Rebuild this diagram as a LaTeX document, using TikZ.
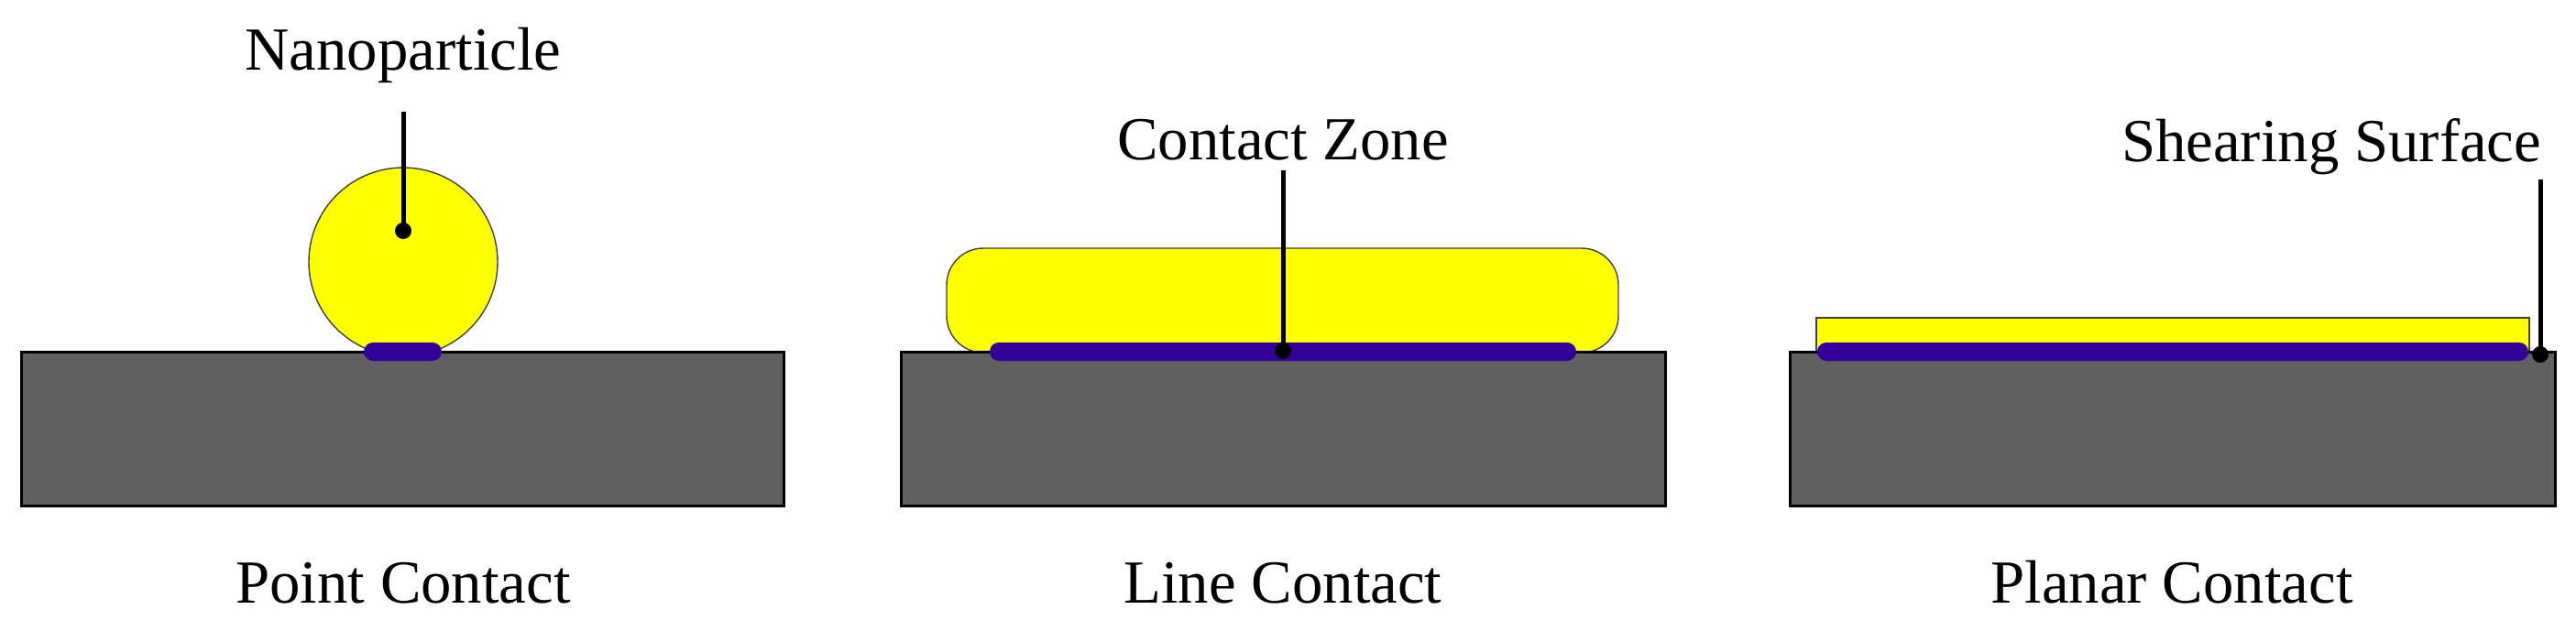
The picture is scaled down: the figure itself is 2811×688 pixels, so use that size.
\documentclass[tikz,border=0pt]{standalone}
\usepackage{fontspec}
\setmainfont{Liberation Serif}
\definecolor{subgray}{HTML}{606060}
\definecolor{npyellow}{HTML}{FFFF00}
\definecolor{zonepurple}{HTML}{330099}
\definecolor{edgegray}{HTML}{404040}
\begin{document}
\begin{tikzpicture}[x=0.25pt,y=-0.25pt,
  substrate/.style={fill=subgray,draw=black,line width=0.75pt},
  particle/.style={fill=npyellow,draw=edgegray,line width=0.35pt},
  zone/.style={fill=zonepurple,draw=none,rounded corners=2.5pt},
  leader/.style={draw=black,line width=1.25pt},
  dotmark/.style={circle,fill=black,inner sep=0pt,minimum size=4.5pt},
  lbl/.style={font=\fontsize{16.7}{20}\selectfont,anchor=base,inner sep=0pt}]
\useasboundingbox (0,0) rectangle (2811,688);

% Panel 1: point contact
\draw[particle] (440,286) circle[radius=103];
\draw[substrate] (23,384) rectangle (855,552);
\fill[zone] (397,374) rectangle (482,394);
\node[lbl] (np-label) at (440,76) {Nanoparticle};
\coordinate (np-top) at (440,122);
\node[dotmark] (np-dot) at (440,252) {};
\draw[leader] (np-top) -- (np-dot.center);
\node[lbl] (pc-label) at (440,658) {Point Contact};

% Panel 2: line contact
\draw[particle,rounded corners=10pt] (1033,271) rectangle (1766,385);
\draw[substrate] (983,384) rectangle (1817,552);
\fill[zone] (1080,374) rectangle (1720,394);
\node[lbl] (cz-label) at (1400,174) {Contact Zone};
\coordinate (cz-top) at (1400,186);
\node[dotmark] (cz-dot) at (1400,383) {};
\draw[leader] (cz-top) -- (cz-dot.center);
\node[lbl] (lc-label) at (1400,658) {Line Contact};

% Panel 3: planar contact
\draw[particle] (1982,347) rectangle (2760,385);
\draw[substrate] (1953,384) rectangle (2788,552);
\fill[zone] (1983,374) rectangle (2759,394);
\node[lbl,anchor=base east] (ss-label) at (2774,176) {Shearing Surface};
\coordinate (ss-top) at (2772,196);
\node[dotmark] (ss-dot) at (2772,387) {};
\draw[leader] (ss-top) -- (ss-dot.center);
\node[lbl] (plc-label) at (2370,658) {Planar Contact};
\end{tikzpicture}
\end{document}
